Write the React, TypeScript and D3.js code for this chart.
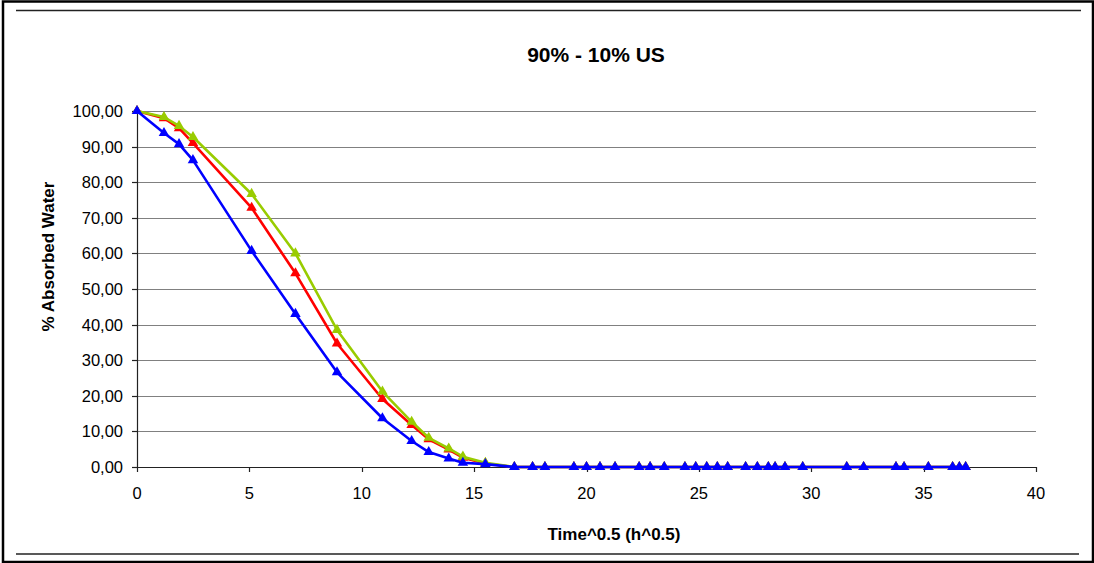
import React from "react";
import * as d3 from "d3";

const title = "90% - 10% US";
const xTitle = "Time^0.5 (h^0.5)";
const yTitle = "% Absorbed Water";

const xValues = [
  0, 1.2, 1.87, 2.49, 5.1, 7.05, 8.9, 10.92, 12.22, 12.98, 13.87, 14.5, 15.5,
  16.79, 17.6, 18.15, 19.44, 20.0, 20.6, 21.27, 22.34, 22.83, 23.46, 24.38,
  24.86, 25.35, 25.82, 26.28, 27.08, 27.6, 28.09, 28.39, 28.83, 29.62, 31.58,
  32.33, 33.77, 34.13, 35.21, 36.29, 36.59, 36.87,
];

const zeros29 = new Array(29).fill(0);

const redValues = [
  100, 98.0, 95.2, 91.0, 72.8, 54.4, 34.7, 19.1, 11.8, 7.8, 4.9, 2.6, 1.0,
  ...zeros29,
];
const greenValues = [
  100, 98.3, 95.8, 92.7, 76.7, 60.0, 38.5, 21.2, 12.7, 8.2, 5.2, 2.9, 1.2,
  ...zeros29,
];
const blueValues = [
  100, 93.8, 90.7, 86.2, 60.7, 43.0, 26.6, 13.7, 7.3, 4.2, 2.4, 1.2, 0.8,
  ...zeros29,
];

const xTicks = [0, 5, 10, 15, 20, 25, 30, 35, 40];
const yTicks = [0, 10, 20, 30, 40, 50, 60, 70, 80, 90, 100];

const seriesList = [
  { name: "red", color: "#FF0000", values: redValues },
  { name: "green", color: "#99CC00", values: greenValues },
  { name: "blue", color: "#0000FF", values: blueValues },
];

const W = 1094;
const H = 563;
const plot = { left: 137, right: 1036, top: 111, bottom: 467 };
const font = "'Liberation Sans', Arial, sans-serif";

export default function App() {
  const x = d3.scaleLinear().domain([0, 40]).range([plot.left, plot.right]);
  const y = d3.scaleLinear().domain([0, 100]).range([plot.bottom, plot.top]);
  const line = d3
    .line<[number, number]>()
    .x((d) => x(d[0]))
    .y((d) => y(d[1]));
  const tri = d3.symbol().type(d3.symbolTriangle).size(48)() as string;
  const fmt = (v: number) => v.toFixed(2).replace(".", ",");

  return (
    <svg
      width={W}
      height={H}
      style={{ position: "absolute", left: 0, top: 0, background: "#fff" }}
      fontFamily={font}
    >
      <rect x={0} y={0} width={W} height={H} fill="#fff" />
      <rect
        x={3}
        y={1.5}
        width={1090}
        height={560.5}
        fill="none"
        stroke="#000"
        strokeWidth={2.5}
      />
      <line x1={16} x2={1081} y1={10.5} y2={10.5} stroke="#222" strokeWidth={1.5} />
      <line x1={16} x2={1079} y1={554} y2={554} stroke="#222" strokeWidth={1.5} />

      {/* gridlines */}
      {yTicks
        .filter((t) => t > 0)
        .map((t) => (
          <line
            key={"g" + t}
            x1={plot.left}
            x2={plot.right}
            y1={Math.round(y(t)) + 0.5}
            y2={Math.round(y(t)) + 0.5}
            stroke="#808080"
            strokeWidth={1.2}
          />
        ))}

      {/* axes */}
      <line
        x1={plot.left + 0.5}
        x2={plot.left + 0.5}
        y1={plot.top}
        y2={plot.bottom}
        stroke="#222"
        strokeWidth={1.2}
      />
      <line
        x1={plot.left}
        x2={plot.right}
        y1={plot.bottom + 0.5}
        y2={plot.bottom + 0.5}
        stroke="#222"
        strokeWidth={1.2}
      />
      {yTicks.map((t) => (
        <g key={"yt" + t}>
          <line
            x1={plot.left - 5}
            x2={plot.left}
            y1={Math.round(y(t)) + 0.5}
            y2={Math.round(y(t)) + 0.5}
            stroke="#222"
            strokeWidth={1.2}
          />
          <text
            x={123}
            y={y(t)}
            dy="0.36em"
            textAnchor="end"
            fontSize={16.5}
            fill="#000"
          >
            {fmt(t)}
          </text>
        </g>
      ))}
      {xTicks.map((t) => (
        <g key={"xt" + t}>
          <line
            x1={Math.round(x(t)) + 0.5}
            x2={Math.round(x(t)) + 0.5}
            y1={plot.bottom}
            y2={plot.bottom + 5}
            stroke="#222"
            strokeWidth={1.2}
          />
          <text
            x={x(t)}
            y={499}
            textAnchor="middle"
            fontSize={16.5}
            fill="#000"
          >
            {t}
          </text>
        </g>
      ))}

      {/* series */}
      {seriesList.map((s) => {
        const pts = xValues.map((xv, i) => [xv, s.values[i]] as [number, number]);
        return (
          <g key={s.name}>
            <path
              d={line(pts) as string}
              fill="none"
              stroke={s.color}
              strokeWidth={2.6}
              strokeLinejoin="round"
            />
            {pts.map((p, i) => (
              <path
                key={i}
                d={tri}
                transform={`translate(${x(p[0])},${y(p[1])})`}
                fill={s.color}
              />
            ))}
          </g>
        );
      })}

      {/* titles */}
      <text
        x={596}
        y={62}
        textAnchor="middle"
        fontSize={21}
        fontWeight="bold"
        fill="#000"
      >
        {title}
      </text>
      <text
        x={614}
        y={540}
        textAnchor="middle"
        fontSize={17}
        fontWeight="bold"
        fill="#000"
      >
        {xTitle}
      </text>
      <text
        transform={`translate(54,256.5) rotate(-90)`}
        textAnchor="middle"
        fontSize={17}
        fontWeight="bold"
        fill="#000"
      >
        {yTitle}
      </text>
    </svg>
  );
}
